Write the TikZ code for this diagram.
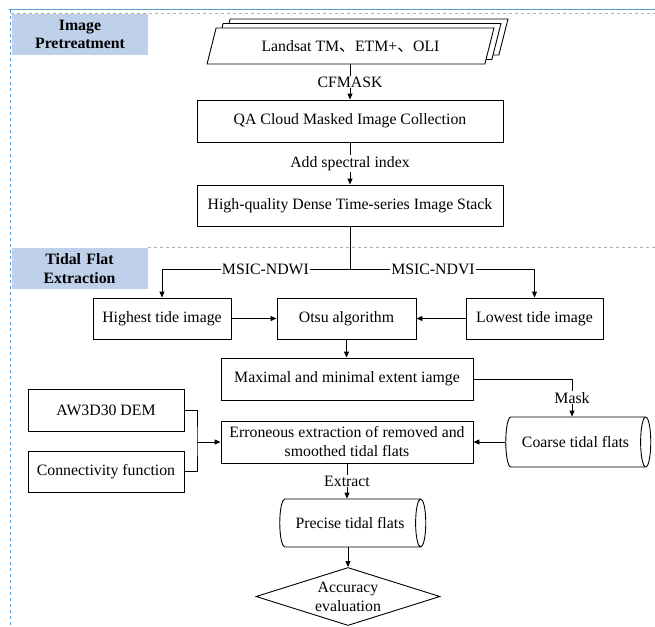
\documentclass[tikz,border=0pt]{standalone}
\usepackage{fontspec}
\setmainfont{Liberation Serif}
\newfontfamily\cjkfont{Noto Sans CJK SC}
\usetikzlibrary{arrows.meta,shapes.geometric,shadows}
\definecolor{frameblue}{RGB}{91,155,213}
\definecolor{stageblue}{RGB}{190,208,234}
\definecolor{dashgray}{RGB}{175,175,175}
\tikzset{
  box/.style={draw, line width=0.9pt, fill=white, inner sep=0pt, align=center},
  tube/.style={draw, line width=0.9pt, fill=white, cylinder, aspect=0.9, inner sep=0pt},
  lbl/.style={fill=white, inner sep=1pt},
  arr/.style={line width=0.9pt, -{Triangle[length=6pt,width=5pt]}},
  link/.style={line width=0.9pt},
  stage/.style={fill=stageblue, font=\fontsize{15.8}{18.5}\selectfont\bfseries, align=center, inner sep=0pt, text width=136pt, minimum height=41pt}
}

\begin{document}
\begin{tikzpicture}[x=1pt, y=-1pt, font=\fontsize{15.8}{19}\selectfont]
			%%%%% START %%%%%
			\useasboundingbox (0,0) rectangle (655,626);
			
			\draw[frameblue, line width=1pt] (9,10) -- (655,10);
			\draw[dashgray, dashed, line width=0.8pt] (11,13) -- (655,13);
			\draw[frameblue, dashed, line width=1pt] (10,10) -- (10,626);
			\draw[dashgray, dashed, line width=0.8pt] (148,247.5) -- (655,247.5);
			
			\node[stage] (pretreat) at (80,34.5) {Image\\Pretreatment};
			\node[stage] (extraction) at (79.5,268.5) {Tidal Flat\\Extraction};
			
			\node[box, trapezium, trapezium left angle=63, trapezium right angle=117, trapezium stretches=true, minimum width=287pt, minimum height=36pt, double copy shadow={shadow xshift=7pt, shadow yshift=4.5pt, draw=black, fill=white, line width=0.9pt}] (landsat) at (350.5,46) {Landsat TM{\cjkfont 、}ETM+{\cjkfont 、}OLI};
			
			\node[box, minimum width=306pt, minimum height=42pt] (qa) at (350,121) {QA Cloud Masked Image Collection};
			\node[box, minimum width=306pt, minimum height=41pt] (stack) at (350,205.5) {High-quality Dense Time-series Image Stack};
			
			\node[box, minimum width=138pt, minimum height=41pt] (highest) at (162,318.5) {Highest tide image};
			\node[box, minimum width=139pt, minimum height=41pt] (otsu) at (346.5,318.5) {Otsu algorithm};
			\node[box, minimum width=137pt, minimum height=41pt] (lowest) at (534.5,318.5) {Lowest tide image};
			
			\node[box, minimum width=252pt, minimum height=42pt] (maximal) at (347,379) {Maximal and minimal extent iamge};
			\node[box, minimum width=156pt, minimum height=42pt] (aw3d) at (106,410) {AW3D30 DEM};
			\node[box, minimum width=156pt, minimum height=41pt] (connect) at (106,471.5) {Connectivity function};
			\node[box, minimum width=252pt, minimum height=42pt] (erroneous) at (347,442) {Erroneous extraction of removed and\\smoothed tidal flats};
			\node[tube, minimum height=145pt, minimum width=50pt] (coarse) at (575.5,442) {Coarse tidal flats};
			\node[tube, minimum height=146pt, minimum width=48pt] (precise) at (350,523) {Precise tidal flats};
			\node[draw, line width=0.9pt, diamond, aspect=3, minimum width=184pt, minimum height=58pt, inner sep=0pt, align=center] (accuracy) at (348,596.5) {Accuracy\\evaluation};
			
			\draw[arr] (qa.north |- landsat.south) -- node[lbl]{CFMASK} (qa.north);
			\draw[arr] (qa.south) -- node[lbl]{Add spectral index} (stack.north);
			
			\coordinate (split) at (350,269);
			\draw[link] (stack.south) -- (split);
			\draw[arr] (split) -- node[lbl, pos=0.45]{MSIC-NDWI} (split -| highest.north) -- (highest.north);
			\draw[arr] (split) -- node[lbl, pos=0.45]{MSIC-NDVI} (split -| lowest.north) -- (lowest.north);
			
			\draw[arr] (highest.east) -- (otsu.west);
			\draw[arr] (lowest.west) -- (otsu.east);
			\draw[arr] (otsu.south) -- (otsu.south |- maximal.north);
			\draw[arr] (maximal.east) -| node[lbl, pos=0.75]{Mask} ([xshift=-3.5pt]coarse.north);
			
			\coordinate (join) at (197,442);
			\draw[link] (aw3d.east) -| (join) |- (connect.east);
			\draw[arr] (join) -- (erroneous.west);
			\draw[arr] (coarse.west) -- (erroneous.east);
			
			\draw[arr] (erroneous.south) -- node[lbl]{Extract} (erroneous.south |- precise.north);
			\draw[arr] (accuracy.north |- precise.south) -- (accuracy.north);
			
			%%%%% END %%%%%
\end{tikzpicture}
\end{document}
